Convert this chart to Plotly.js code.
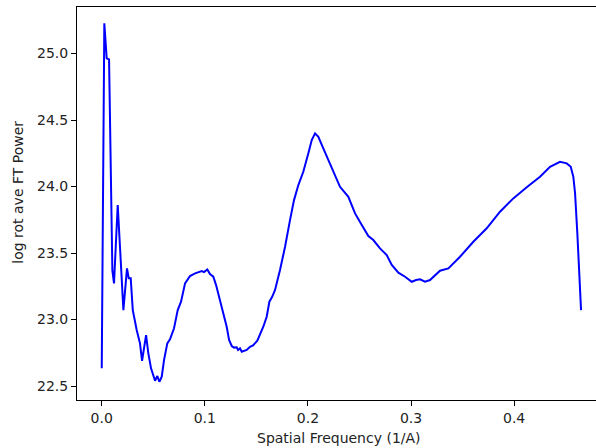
<!DOCTYPE html>
<html>
<head>
<meta charset="utf-8">
<script src="https://cdn.plot.ly/plotly-3.0.1.min.js"></script>
<style>html,body{margin:0;padding:0;background:#fff;}#chart{width:596px;height:448px;}</style>
</head>
<body>
<div id="chart"></div>
<script>
// Spatial frequency (1/A)
const freq = [0.000,0.0025,0.0048,0.0071,0.0103,0.0119,0.0155,0.0210,0.0245,0.0262,0.0281,0.0301,0.0339,0.0371,0.0391,0.0430,0.0452,0.0478,0.0517,0.0539,0.0559,0.0582,0.0604,0.0636,0.0662,0.0701,0.0737,0.0769,0.0808,0.0856,0.0905,0.0970,0.0992,0.1024,0.1050,0.1082,0.1109,0.1147,0.1186,0.1212,0.1235,0.1261,0.1283,0.1309,0.1322,0.1341,0.1358,0.1406,0.1438,0.1467,0.1509,0.1535,0.1567,0.1600,0.1626,0.1652,0.1681,0.1729,0.1778,0.1826,0.1865,0.1907,0.1955,0.2004,0.2037,0.2069,0.2101,0.2149,0.2198,0.2263,0.2311,0.2392,0.2457,0.2522,0.2586,0.2634,0.2699,0.2764,0.2813,0.2877,0.2942,0.3007,0.3049,0.3087,0.3136,0.3184,0.3233,0.3281,0.3362,0.3475,0.3604,0.3734,0.3863,0.3992,0.4122,0.4251,0.4348,0.4445,0.4510,0.4549,0.4574,0.4591,0.4613,0.4632,0.4649];
// log rotational average FT power
const power = [22.633,25.227,24.964,24.956,23.372,23.272,23.861,23.071,23.385,23.310,23.310,23.071,22.921,22.821,22.690,22.883,22.746,22.633,22.540,22.575,22.532,22.570,22.695,22.821,22.851,22.934,23.071,23.134,23.272,23.327,23.347,23.365,23.357,23.377,23.342,23.322,23.259,23.147,23.021,22.946,22.846,22.801,22.789,22.791,22.771,22.783,22.758,22.771,22.795,22.805,22.841,22.883,22.946,23.021,23.134,23.169,23.222,23.372,23.547,23.748,23.898,24.011,24.111,24.250,24.350,24.400,24.374,24.287,24.199,24.074,23.998,23.923,23.798,23.711,23.628,23.598,23.535,23.485,23.410,23.352,23.322,23.284,23.297,23.302,23.284,23.297,23.335,23.367,23.385,23.472,23.585,23.686,23.811,23.911,23.994,24.074,24.149,24.186,24.174,24.149,24.074,23.949,23.648,23.272,23.071];
const xTicks = [0.0,0.1,0.2,0.3,0.4];
const xTickText = ["0.0","0.1","0.2","0.3","0.4"];
const yTicks = [22.5,23.0,23.5,24.0,24.5,25.0];
const yTickText = ["22.5","23.0","23.5","24.0","24.5","25.0"];

const font = {family: "DejaVu Sans", size: 14, color: "#222"};
const trace = {x: freq, y: power, type: "scatter", mode: "lines",
  line: {color: "#0000ff", width: 2}, hoverinfo: "skip"};
const layout = {
  width: 596, height: 448,
  margin: {l: 77, r: 0, t: 7, b: 48, pad: 0},
  paper_bgcolor: "#fff", plot_bgcolor: "#fff",
  showlegend: false,
  font: font,
  xaxis: {range: [-0.024, 0.4794], tickvals: xTicks, ticktext: xTickText,
    showgrid: false, zeroline: false, showline: true, mirror: true,
    linecolor: "#000", linewidth: 1, ticks: "outside", ticklen: 5, tickwidth: 1,
    tickcolor: "#000", tickfont: font},
  yaxis: {range: [22.395, 25.35], tickvals: yTicks, ticktext: yTickText,
    showgrid: false, zeroline: false, showline: true, mirror: false,
    linecolor: "#000", linewidth: 1, ticks: "outside", ticklen: 5, tickwidth: 1,
    tickcolor: "#000", tickfont: font},
  annotations: [
    {text: "Spatial Frequency (1/A)", xref: "paper", yref: "paper", x: 0.505, y: -0.0967,
     xanchor: "center", yanchor: "middle", showarrow: false, font: font},
    {text: "log rot ave FT Power", xref: "paper", yref: "paper", x: -0.1137, y: 0.53,
     xanchor: "center", yanchor: "middle", textangle: -90, showarrow: false, font: font}
  ]
};
Plotly.newPlot("chart", [trace], layout, {staticPlot: true, displayModeBar: false});
</script>
</body>
</html>
